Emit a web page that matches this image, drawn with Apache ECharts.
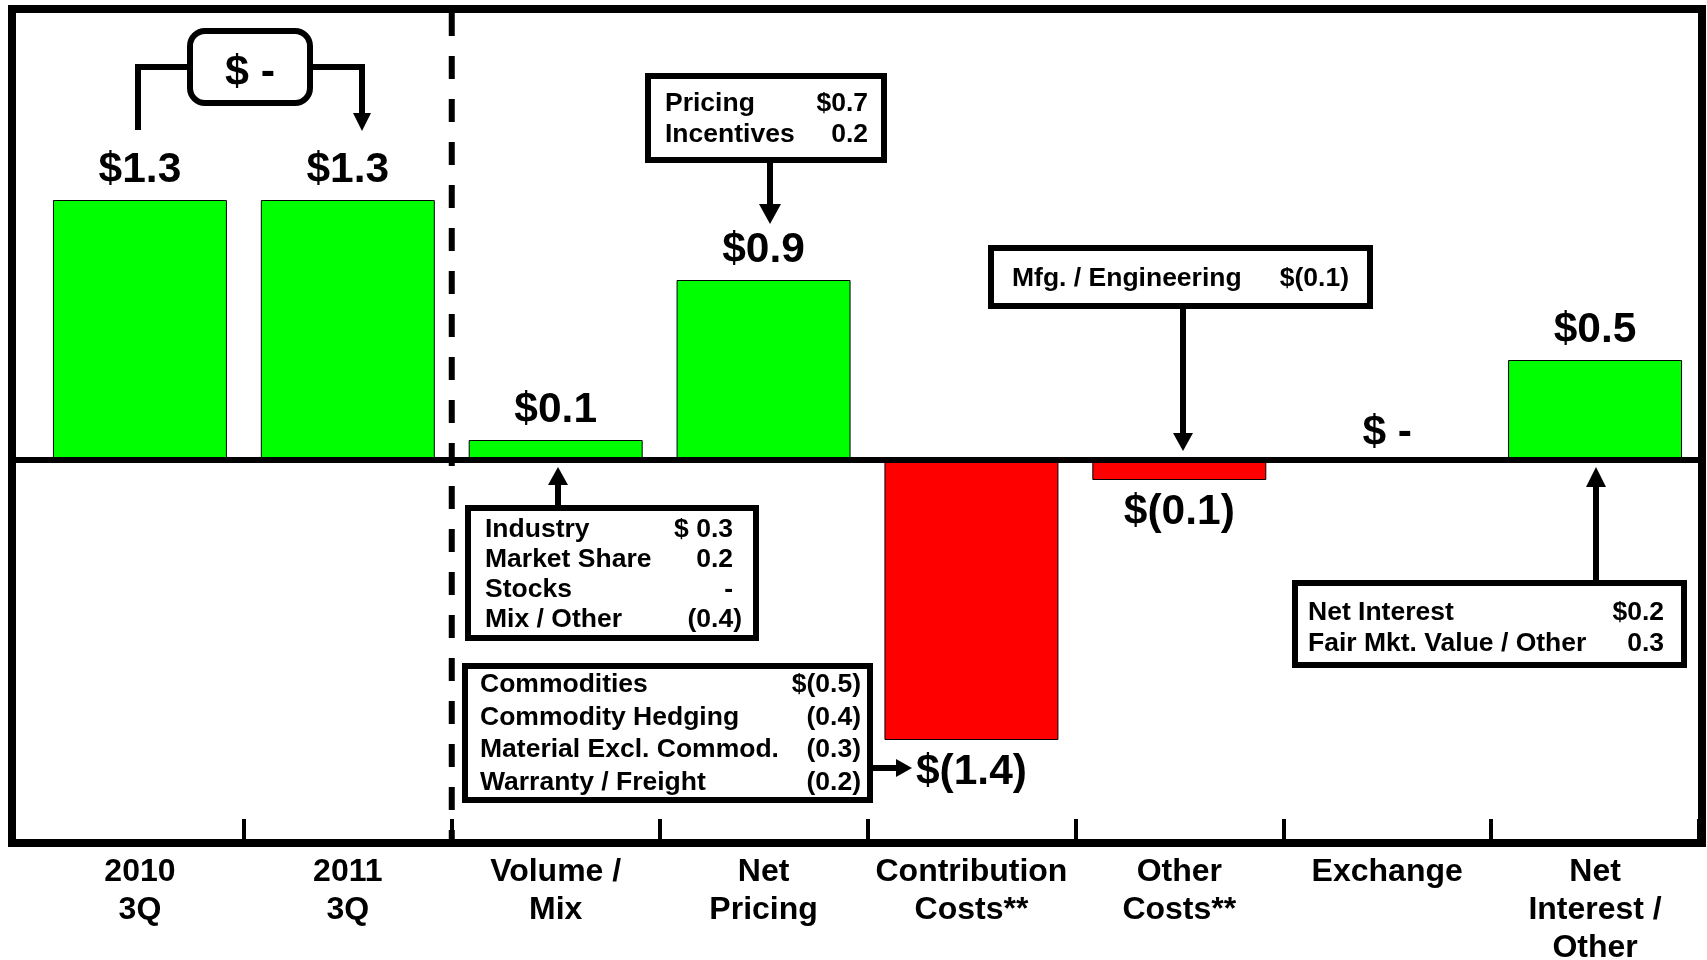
<!DOCTYPE html>
<html><head><meta charset="utf-8">
<script src="https://cdn.jsdelivr.net/npm/echarts@6/dist/echarts.min.js"></script>
<style>html,body{margin:0;padding:0;background:#fff}#c{width:1707px;height:960px}</style>
</head><body><div id="c"></div>
<script>
// ---- data ----
const categories = ['2010\n3Q', '2011\n3Q', 'Volume /\nMix', 'Net\nPricing', 'Contribution\nCosts**', 'Other\nCosts**', 'Exchange', 'Net\nInterest /\nOther'];
const values = [1.3, 1.3, 0.1, 0.9, -1.4, -0.1, 0, 0.5];
const bridgeText = '$ -';
const pricingRows = [['Pricing', '$0.7'], ['Incentives', '0.2']];
const volumeRows = [['Industry', '$ 0.3'], ['Market Share', '0.2'], ['Stocks', '-'], ['Mix / Other', '(0.4)']];
const contribRows = [['Commodities', '$(0.5)'], ['Commodity Hedging', '(0.4)'], ['Material Excl. Commod.', '(0.3)'], ['Warranty / Freight', '(0.2)']];
const otherRows = [['Mfg. / Engineering', '$(0.1)']];
const interestRows = [['Net Interest', '$0.2'], ['Fair Mkt. Value / Other', '0.3']];

const FONT = '"Liberation Sans", Arial, Helvetica, sans-serif';
function money(v) {
  if (v === 0) return '$ -';
  return v < 0 ? '$(' + (-v).toFixed(1) + ')' : '$' + v.toFixed(1);
}

const chart = echarts.init(document.getElementById('c'), null, { renderer: 'canvas' });
chart.setOption({
  animation: false,
  backgroundColor: '#fff',
  grid: { left: 36, right: 8, top: 9, bottom: 117, containLabel: false, outerBoundsMode: 'none' },
  xAxis: {
    type: 'category', data: categories, boundaryGap: true,
    axisLine: { show: false, onZero: false },
    axisTick: { show: true, inside: true, length: 24, interval: function (i) { return i !== 0; }, lineStyle: { color: '#000', width: 4 } },
    axisLabel: { interval: 0, margin: 10, color: '#000', fontFamily: FONT, fontWeight: 'bold', fontSize: 32, lineHeight: 38 },
    splitLine: { show: false }
  },
  yAxis: { type: 'value', min: -1.915, max: 2.255, show: false, splitLine: { show: false } },
  series: [{
    type: 'bar', barWidth: '83.7%',
    data: values.map(function (v) {
      return { value: v, itemStyle: { color: v < 0 ? '#ff0000' : '#00ff00' }, label: { position: v < 0 ? 'bottom' : 'top', distance: v < 0 ? 11 : (v === 0 ? 5 : 8) } };
    }),
    itemStyle: { borderColor: '#000', borderWidth: 1 },
    label: { show: true, formatter: function (p) { return money(p.value); }, color: '#000', fontFamily: FONT, fontWeight: 'bold', fontSize: 42.5 }
  }]
});

// ---- annotations ----
const y0 = chart.convertToPixel({ yAxisIndex: 0 }, 0);
const xSplit = (chart.convertToPixel({ xAxisIndex: 0 }, categories[1]) + chart.convertToPixel({ xAxisIndex: 0 }, categories[2])) / 2;
const Z = 100;
const g = [];

function txt(x, y, s, size, align) {
  g.push({ type: 'text', z: Z + 2, x: x, y: y, style: { text: s, fill: '#000', font: 'bold ' + size + 'px ' + FONT, textAlign: align || 'left', verticalAlign: 'middle', textVerticalAlign: 'middle' } });
}
function box(x, y, w, h, r, lw) {
  g.push({ type: 'rect', z: Z + 1, shape: { x: x, y: y, width: w, height: h, r: r || 0 }, style: { fill: '#fff', stroke: '#000', lineWidth: lw || 6 } });
}
function table(rows, left, right, firstY, gap, size) {
  rows.forEach(function (row, i) {
    const y = firstY + i * gap;
    txt(left, y, row[0], size, 'left');
    const v = row[1];
    const hang = /\)$/.test(v) ? 0 : 9;
    txt(right - hang, y, v, size, 'right');
  });
}
function arrow(x1, y1, x2, y2, hl, hw, lw) {
  const dx = x2 - x1, dy = y2 - y1, len = Math.sqrt(dx * dx + dy * dy);
  const ux = dx / len, uy = dy / len;
  const bx = x2 - ux * hl, by = y2 - uy * hl;
  const px = -uy, py = ux;
  g.push({ type: 'line', z: Z, shape: { x1: x1, y1: y1, x2: bx + ux * 1, y2: by + uy * 1 }, style: { stroke: '#000', lineWidth: lw || 6 } });
  g.push({ type: 'polygon', z: Z, shape: { points: [[x2, y2], [bx + px * hw, by + py * hw], [bx - px * hw, by - py * hw]] }, style: { fill: '#000' } });
}

// zero line and dashed separator
g.push({ type: 'line', z: Z - 1, shape: { x1: 12, y1: y0, x2: 1702, y2: y0 }, style: { stroke: '#000', lineWidth: 6 } });
g.push({ type: 'line', z: Z - 1, shape: { x1: xSplit, y1: 13, x2: xSplit, y2: 843 }, style: { stroke: '#000', lineWidth: 6, lineDash: [23, 20] } });

// bridge "$ -" between 2010 and 2011
g.push({ type: 'polyline', z: Z, shape: { points: [[138, 130], [138, 67], [190, 67]] }, style: { stroke: '#000', lineWidth: 6, fill: null } });
g.push({ type: 'line', z: Z, shape: { x1: 310, y1: 67, x2: 365, y2: 67 }, style: { stroke: '#000', lineWidth: 6 } });
arrow(362, 64, 362, 131, 18, 9, 6);
box(190, 31, 120, 72, 15, 6);
txt(250, 73, bridgeText, 43, 'center');

// pricing
box(648, 76, 236, 84, 0, 6);
table(pricingRows, 665, 868 + 9, 104, 31, 26.5);
arrow(770, 160, 770, 224, 20, 11, 6);

// mfg / engineering
box(991, 248, 379, 58, 0, 6);
table(otherRows, 1012, 1349, 279, 30, 26.5);
arrow(1183, 306, 1183, 451, 18, 10, 6);

// volume / mix
box(468, 508, 288, 130, 0, 6);
table(volumeRows, 485, 742, 530, 30, 26.5);
arrow(558, 508, 558, 467, 18, 10, 6);

// contribution costs
box(465, 666, 405, 134, 0, 6);
table(contribRows, 480, 861, 685, 32.5, 26.5);
arrow(870, 768, 912, 768, 16, 9, 6);

// net interest / other
box(1295, 583, 389, 82, 0, 6);
table(interestRows, 1308, 1664 + 9, 613, 31, 26.5);
arrow(1596, 583, 1596, 467, 20, 10, 6);

// outer frame
g.push({ type: 'rect', z: Z + 5, shape: { x: 12, y: 9, width: 1690, height: 834 }, style: { fill: null, stroke: '#000', lineWidth: 8 } });

chart.setOption({ graphic: g });
</script>
</body></html>
